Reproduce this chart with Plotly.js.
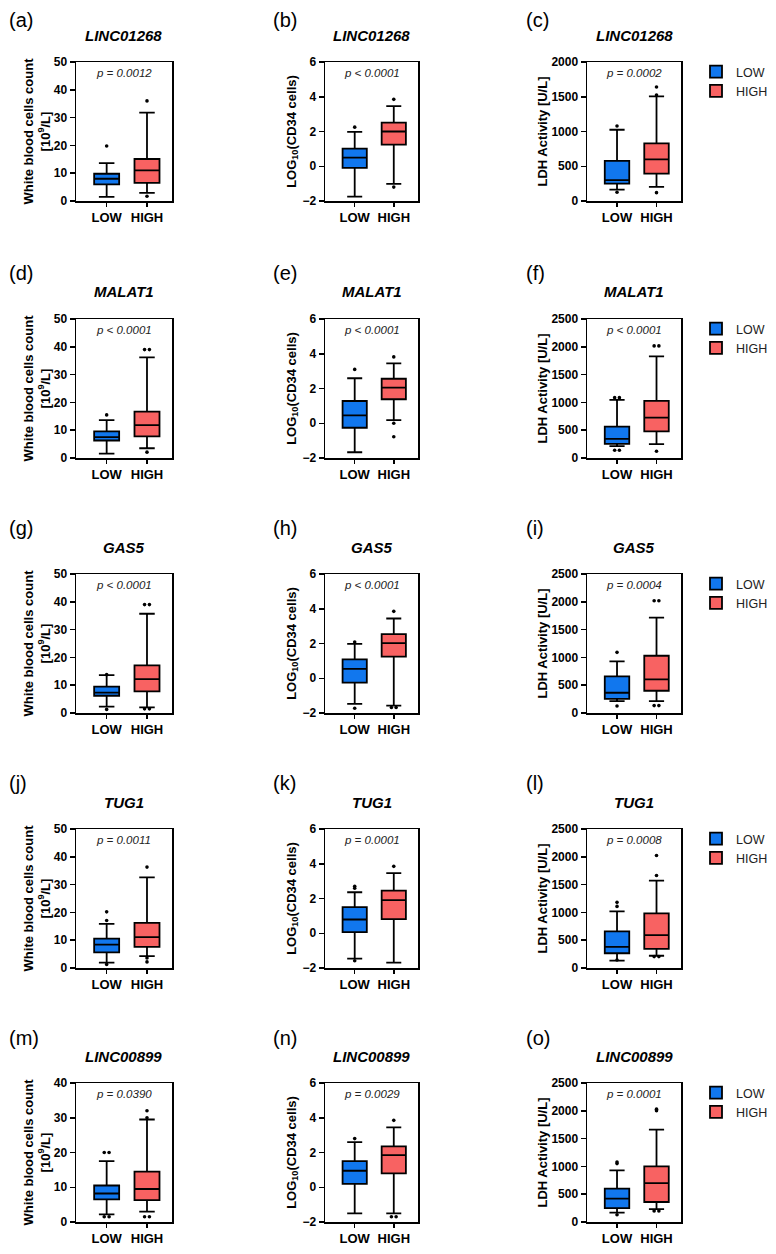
<!DOCTYPE html>
<html>
<head>
<meta charset="utf-8">
<script src="https://cdn.plot.ly/plotly-3.0.1.min.js"></script>
<style>html,body{margin:0;padding:0;background:#fff;}#chart{width:776px;height:1254px;}</style>
</head>
<body>
<div id="chart"></div>
<script>
// ---------- categories & labels ----------
const groups = ['LOW', 'HIGH'];
const genes = ['LINC01268', 'MALAT1', 'GAS5', 'TUG1', 'LINC00899'];
const panelLetters = ['(a)','(b)','(c)','(d)','(e)','(f)','(g)','(h)','(i)','(j)','(k)','(l)','(m)','(n)','(o)'];
const pValues = [
  'p = 0.0012','p < 0.0001','p = 0.0002',
  'p < 0.0001','p < 0.0001','p < 0.0001',
  'p < 0.0001','p < 0.0001','p = 0.0004',
  'p = 0.0011','p = 0.0001','p = 0.0008',
  'p = 0.0390','p = 0.0029','p = 0.0001'
];
const yTitles = ['White blood cells count<br>[10<sup>9</sup>/L]', 'LOG<sub>10</sub>(CD34 cells)', 'LDH Activity [U/L]'];
const wbcTicks = [0, 10, 20, 30, 40, 50];
const wbcTicksM = [0, 10, 20, 30, 40];
const cd34Ticks = [-2, 0, 2, 4, 6];
const ldhTicksA = [0, 500, 1000, 1500, 2000];
const ldhTicks = [0, 500, 1000, 1500, 2000, 2500];

// ---------- box statistics: [lowerfence, q1, median, q3, upperfence] ----------
// (a) WBC – LINC01268
const a_LOW = [1.5, 6.0, 8.0, 9.8, 13.6];      const a_LOW_out = [19.8];
const a_HIGH = [2.9, 6.5, 11.0, 15.1, 31.8];   const a_HIGH_out = [36.0, 1.7];
// (b) CD34 – LINC01268
const b_LOW = [-1.75, -0.09, 0.5, 1.02, 1.98]; const b_LOW_out = [2.25];
const b_HIGH = [-1.02, 1.24, 2.0, 2.51, 3.46]; const b_HIGH_out = [3.85, -1.2];
// (c) LDH – LINC01268
const c_LOW = [165, 250, 300, 578, 1025];      const c_LOW_out = [1080, 125];
const c_HIGH = [202, 395, 598, 829, 1505];     const c_HIGH_out = [1640, 1525, 120];
// (d) WBC – MALAT1
const d_LOW = [1.6, 6.3, 7.5, 9.6, 13.6];      const d_LOW_out = [15.5];
const d_HIGH = [3.5, 7.8, 11.8, 16.7, 36.2];   const d_HIGH_out = [39, 39, 2.1];
// (e) CD34 – MALAT1
const e_LOW = [-1.67, -0.26, 0.45, 1.28, 2.59]; const e_LOW_out = [3.1];
const e_HIGH = [0.18, 1.38, 2.05, 2.56, 3.45];  const e_HIGH_out = [3.82, 0.0, -0.78];
// (f) LDH – MALAT1
const f_LOW = [212, 254, 345, 563, 1047];      const f_LOW_out = [1085, 1085, 140, 140];
const f_HIGH = [248, 478, 726, 1029, 1828];    const f_HIGH_out = [2016, 2016, 121];
// (g) WBC – GAS5
const g_LOW = [2.3, 6.2, 7.3, 9.5, 13.6];      const g_LOW_out = [13.8, 1.3];
const g_HIGH = [2.0, 7.8, 12.2, 17.1, 35.7];   const g_HIGH_out = [39, 39, 1.5, 1.5];
// (h) CD34 – GAS5
const h_LOW = [-1.48, -0.25, 0.54, 1.09, 1.98]; const h_LOW_out = [2.08, -1.73];
const h_HIGH = [-1.58, 1.24, 2.02, 2.54, 3.44]; const h_HIGH_out = [3.85, -1.68, -1.68];
// (i) LDH – GAS5
const i_LOW = [212, 254, 364, 660, 927];       const i_LOW_out = [1091, 127];
const i_HIGH = [212, 400, 606, 1030, 1715];    const i_HIGH_out = [2018, 2018, 133, 133];
// (j) WBC – TUG1
const j_LOW = [1.9, 5.65, 8.4, 10.6, 15.9];    const j_LOW_out = [17.1, 20.2, 1.3];
const j_HIGH = [4.3, 7.6, 11.1, 16.2, 32.6];   const j_HIGH_out = [36.3, 3.6, 2.2];
// (k) CD34 – TUG1
const k_LOW = [-1.46, 0.07, 0.79, 1.50, 2.36]; const k_LOW_out = [2.7, 2.59, -1.58];
const k_HIGH = [-1.69, 0.81, 1.91, 2.45, 3.46]; const k_HIGH_out = [3.85];
// (l) LDH – TUG1
const l_LOW = [133, 265, 380, 657, 1018];      const l_LOW_out = [1108, 1181, 145];
const l_HIGH = [220, 343, 590, 982, 1572];     const l_HIGH_out = [1663, 2024, 205, 205];
// (m) WBC – LINC00899
const m_LOW = [2.2, 6.5, 8.2, 10.5, 17.5];     const m_LOW_out = [20, 20, 1.5, 1.5];
const m_HIGH = [3.0, 6.3, 9.5, 14.5, 29.5];    const m_HIGH_out = [32, 30, 1.5, 1.5];
// (n) CD34 – LINC00899
const n_LOW = [-1.5, 0.2, 0.95, 1.5, 2.6];     const n_LOW_out = [2.8];
const n_HIGH = [-1.5, 0.8, 1.85, 2.35, 3.45];  const n_HIGH_out = [3.85, -1.7, -1.7];
// (o) LDH – LINC00899
const o_LOW = [170, 250, 420, 600, 930];       const o_LOW_out = [1050, 1080, 130];
const o_HIGH = [230, 360, 700, 1000, 1660];    const o_HIGH_out = [2000, 2030, 200, 200];

const lowStats  = [a_LOW, b_LOW, c_LOW, d_LOW, e_LOW, f_LOW, g_LOW, h_LOW, i_LOW, j_LOW, k_LOW, l_LOW, m_LOW, n_LOW, o_LOW];
const lowOut    = [a_LOW_out, b_LOW_out, c_LOW_out, d_LOW_out, e_LOW_out, f_LOW_out, g_LOW_out, h_LOW_out, i_LOW_out, j_LOW_out, k_LOW_out, l_LOW_out, m_LOW_out, n_LOW_out, o_LOW_out];
const highStats = [a_HIGH, b_HIGH, c_HIGH, d_HIGH, e_HIGH, f_HIGH, g_HIGH, h_HIGH, i_HIGH, j_HIGH, k_HIGH, l_HIGH, m_HIGH, n_HIGH, o_HIGH];
const highOut   = [a_HIGH_out, b_HIGH_out, c_HIGH_out, d_HIGH_out, e_HIGH_out, f_HIGH_out, g_HIGH_out, h_HIGH_out, i_HIGH_out, j_HIGH_out, k_HIGH_out, l_HIGH_out, m_HIGH_out, n_HIGH_out, o_HIGH_out];

// ---------- layout geometry (pixels) ----------
const W = 776, H = 1254;
const colX = [[76, 172], [325, 418], [587, 681]];
const rowTop = [62, 319, 574, 829, 1083];
const plotH = 139;
const labelX = [7, 271, 524];
const labelY = [20, 273, 528, 783, 1038];
const titleStandoff = [0, 3, 1];
const colors = ['#1177EE', '#F86262'];
const FONT = 'Arial, "Liberation Sans", sans-serif';

function px2x(p) { return p / W; }
function px2y(p) { return 1 - p / H; }

function jitter(vals, center) {
  return vals.map((v, i) => {
    const same = vals.map((w, j) => j).filter(j => vals[j] === v);
    if (same.length < 2) return center;
    const rank = same.indexOf(i);
    return center + (rank - (same.length - 1) / 2) * 0.12;
  });
}

const data = [];
const layout = {
  width: W, height: H, autosize: false,
  margin: {l: 0, r: 0, t: 0, b: 0},
  paper_bgcolor: '#fff', plot_bgcolor: '#fff',
  showlegend: true,
  font: {family: FONT, color: '#000'},
  annotations: []
};

for (let k = 0; k < 15; k++) {
  const r = Math.floor(k / 3), c = k % 3;
  const idx = k + 1;
  const xa = 'x' + idx, ya = 'y' + idx;
  const legendKey = r === 0 ? 'legend' : 'legend' + (r + 1);
  const statsPair = [lowStats[k], highStats[k]];
  const outPair = [lowOut[k], highOut[k]];

  groups.forEach((g, gi) => {
    const s = statsPair[gi];
    data.push({
      type: 'box', name: g, x: [gi],
      lowerfence: [s[0]], q1: [s[1]], median: [s[2]], q3: [s[3]], upperfence: [s[4]],
      width: 0.62, whiskerwidth: 0.62,
      fillcolor: colors[gi], line: {color: '#000', width: 1.8},
      boxpoints: false, hoverinfo: 'y',
      xaxis: xa, yaxis: ya,
      showlegend: c === 2, legend: legendKey
    });
    data.push({
      type: 'scatter', mode: 'markers', name: g + ' outliers',
      x: jitter(outPair[gi], gi), y: outPair[gi],
      marker: {color: '#000', size: 3.6},
      xaxis: xa, yaxis: ya, showlegend: false, cliponaxis: false, hoverinfo: 'y'
    });
  });

  let ticks;
  if (c === 0) { ticks = (r === 4) ? wbcTicksM : wbcTicks; }
  else if (c === 1) { ticks = cd34Ticks; }
  else { ticks = (r === 0) ? ldhTicksA : ldhTicks; }
  const range = [ticks[0], ticks[ticks.length - 1]];

  const top = rowTop[r];
  layout['xaxis' + idx] = {
    domain: [px2x(colX[c][0]), px2x(colX[c][1])], anchor: ya,
    range: [-0.76, 1.62], tickvals: [0, 1], ticktext: groups,
    ticks: 'outside', ticklen: 4, tickwidth: 1.5, tickcolor: '#000',
    tickfont: {size: 13, weight: 'bold', family: FONT, color: '#000'},
    showline: true, linewidth: 1.5, linecolor: '#000', mirror: true,
    showgrid: false, zeroline: false, fixedrange: true
  };
  layout['yaxis' + idx] = {
    domain: [px2y(top + plotH), px2y(top)], anchor: xa,
    range: range, tickvals: ticks,
    ticks: 'outside', ticklen: 5, tickwidth: 1.5, tickcolor: '#000',
    tickfont: {size: 12, weight: 'bold', family: FONT, color: '#000'},
    showline: true, linewidth: 1.5, linecolor: '#000', mirror: true,
    showgrid: false, zeroline: false, fixedrange: true,
    title: {text: yTitles[c], standoff: titleStandoff[c], font: {size: 13, weight: 'bold', family: FONT, color: '#000'}}
  };

  const cx = (colX[c][0] + colX[c][1]) / 2;
  layout.annotations.push({
    xref: 'paper', yref: 'paper', x: px2x(labelX[c]), y: px2y(labelY[r]),
    xanchor: 'left', yanchor: 'middle', showarrow: false,
    text: panelLetters[k], font: {size: 20, family: FONT, color: '#000'}
  });
  layout.annotations.push({
    xref: 'paper', yref: 'paper', x: px2x(cx), y: px2y(top - 27),
    xanchor: 'center', yanchor: 'middle', showarrow: false,
    text: '<b><i>' + genes[r] + '</i></b>', font: {size: 15, family: FONT, color: '#000'}
  });
  layout.annotations.push({
    xref: 'paper', yref: 'paper', x: px2x(cx), y: px2y(top + 11),
    xanchor: 'center', yanchor: 'middle', showarrow: false,
    text: '<i>' + pValues[k] + '</i>', font: {size: 11.5, family: FONT, color: '#222'}
  });

  if (c === 2) {
    layout[legendKey] = {
      x: px2x(696), xanchor: 'left', y: px2y(top - 5), yanchor: 'top',
      font: {size: 12.5, family: FONT, color: '#222'},
      bgcolor: 'rgba(0,0,0,0)', borderwidth: 0, traceorder: 'normal',
      itemclick: false, itemdoubleclick: false
    };
  }
}

Plotly.newPlot('chart', data, layout, {staticPlot: true, displayModeBar: false});
</script>
</body>
</html>
